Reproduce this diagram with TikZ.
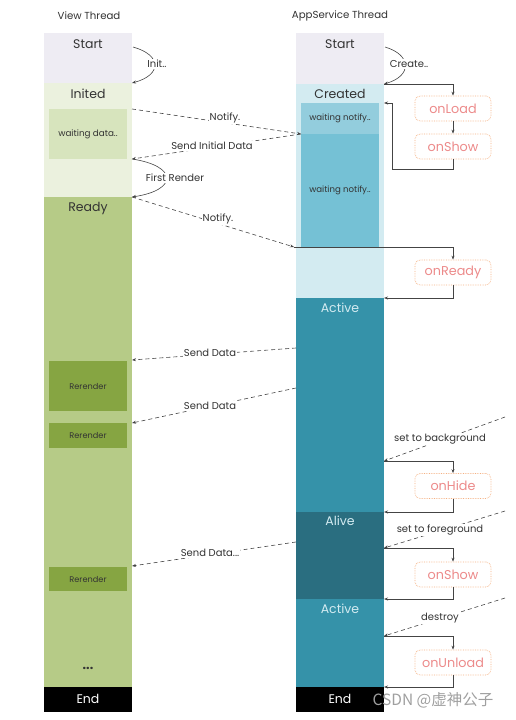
\documentclass[tikz,border=0pt]{standalone}
\usepackage{fontspec}
\setmainfont{Poppins}
\newfontfamily\cjkfont{Noto Sans CJK SC}
\usetikzlibrary{arrows.meta}
\definecolor{cStart}{HTML}{EEECF3}
\definecolor{cInited}{HTML}{EBF1DE}
\definecolor{cWait}{HTML}{D7E4BD}
\definecolor{cReady}{HTML}{B6CB87}
\definecolor{cRer}{HTML}{86A542}
\definecolor{cCreated}{HTML}{D3EBF1}
\definecolor{cWn1}{HTML}{93CDDD}
\definecolor{cWn2}{HTML}{75C1D5}
\definecolor{cActive}{HTML}{3592A9}
\definecolor{cAlive}{HTML}{2A6E80}
\definecolor{cActTxt}{HTML}{D3EBF1}
\definecolor{cOrange}{HTML}{F4B183}
\definecolor{cOrTxt}{HTML}{EC8A8A}
\definecolor{cTxt}{HTML}{333333}
\definecolor{cLine}{HTML}{444444}
\begin{document}
\begin{tikzpicture}[x=1pt,y=-1pt,
  blk/.style={draw=none,inner sep=0pt,outer sep=0pt,anchor=north west},
  lbl/.style={inner sep=0pt,text=cTxt,font=\fontsize{12.5}{12.5}\selectfont},
  small/.style={inner sep=0pt,text=cTxt,font=\fontsize{8.2}{8.5}\selectfont},
  title/.style={inner sep=0pt,text=cTxt,font=\fontsize{10.2}{10.2}\selectfont},
  conlbl/.style={inner sep=1pt,fill=white,text=cTxt,font=\fontsize{10}{10}\selectfont},
  hook/.style={draw=cOrange,densely dotted,rounded corners=5pt,minimum width=76pt,minimum height=25pt,inner sep=0pt,text=cOrTxt,font=\fontsize{12.8}{12.8}\selectfont,line width=0.7pt},
  arr/.style={-{Stealth[length=4pt,width=3pt]},draw=cLine,line width=0.6pt},
  dsh/.style={arr,dash pattern=on 4pt off 3pt},
]
\useasboundingbox (0,0) rectangle (515,720);
% titles
\node[title] (tv) at (89,16) {View Thread};
\node[title] (ta) at (340,16) {AppService Thread};
% View thread column
\node[blk,fill=cStart,minimum width=88pt,minimum height=50pt] (vstart) at (44,33) {};
\node[blk,fill=cInited,minimum width=88pt,minimum height=114pt] (vinited) at (44,83) {};
\node[blk,fill=cWait,minimum width=78pt,minimum height=50pt] (wdata) at (49,109) {};
\node[blk,fill=cReady,minimum width=88pt,minimum height=490pt] (vready) at (44,197) {};
\node[blk,fill=cRer,minimum width=78pt,minimum height=50pt] (rr1) at (49,361) {};
\node[blk,fill=cRer,minimum width=78pt,minimum height=25pt] (rr2) at (49,423) {};
\node[blk,fill=cRer,minimum width=78pt,minimum height=24pt] (rr3) at (49,567) {};
\node[blk,fill=black,minimum width=88pt,minimum height=25pt] (vend) at (44,687) {};
\node[lbl] (lvs) at (88,44) {Start};
\node[lbl] (lvi) at (88,94) {Inited};
\node[small,font=\fontsize{8.8}{9}\selectfont] (lwd) at (88,134) {waiting data..};
\node[lbl] (lvr) at (88,208) {Ready};
\node[small] (lr1) at (88,386) {Rerender};
\node[small] (lr2) at (88,435.5) {Rerender};
\node[small] (lr3) at (88,579) {Rerender};
\node[lbl,font=\bfseries\fontsize{12.5}{12.5}\selectfont] (ldots) at (88,668) {...};
\node[lbl,text=white] (lve) at (88,699) {End};
% AppService column
\node[blk,fill=cStart,minimum width=88pt,minimum height=51pt] (astart) at (296,33) {};
\node[blk,fill=cCreated,minimum width=88pt,minimum height=214pt] (acreated) at (296,84) {};
\node[blk,fill=cWn1,minimum width=78pt,minimum height=31pt] (wn1) at (301,103) {};
\node[blk,fill=cWn2,minimum width=78pt,minimum height=113pt] (wn2) at (301,134) {};
\node[blk,fill=cActive,minimum width=88pt,minimum height=214pt] (aact1) at (296,298) {};
\node[blk,fill=cAlive,minimum width=88pt,minimum height=87pt] (aalive) at (296,512) {};
\node[blk,fill=cActive,minimum width=88pt,minimum height=88pt] (aact2) at (296,599) {};
\node[blk,fill=black,minimum width=88pt,minimum height=25pt] (aend) at (296,687) {};
\node[lbl] (las) at (340,44) {Start};
\node[lbl] (lac) at (340,94) {Created};
\node[small,font=\fontsize{8.6}{9}\selectfont] (lw1) at (340,118.5) {waiting notify..};
\node[small,font=\fontsize{8.6}{9}\selectfont] (lw2) at (340,190) {waiting notify..};
\node[lbl,text=cActTxt] (la1) at (340,308) {Active};
\node[lbl,text=cActTxt] (lal) at (340,521) {Alive};
\node[lbl,text=cActTxt] (la2) at (340,609) {Active};
\node[lbl,text=white] (lae) at (340,699) {End};
% hooks
\node[hook] (onload) at (453,108.5) {onLoad};
\node[hook] (onshow) at (453,146.5) {onShow};
\node[hook] (onready) at (453,272.5) {onReady};
\node[hook] (onhide) at (453,486) {onHide};
\node[hook] (onshowb) at (453,574.5) {onShow};
\node[hook] (onunload) at (453,662.5) {onUnload};
% coordinates
\coordinate (pInit1) at (133,47);
\coordinate (pCr1) at (385,47);
\coordinate (pBack) at (392,169);
\coordinate (pIn) at (384,103);
\coordinate (pN2) at (294,247);
\coordinate (sd1a) at (296,348);
\coordinate (sd1b) at (132,360);
\coordinate (sd2a) at (296,388);
\coordinate (sd2b) at (132,423);
\coordinate (sd3a) at (296,542);
\coordinate (sd3b) at (132,566);
\coordinate (bgA) at (505,417);
\coordinate (bgB) at (384,461);
\coordinate (fgA) at (505,511);
\coordinate (fgB) at (384,548);
\coordinate (dsA) at (505,598);
\coordinate (dsB) at (384,636);
% curves
\draw[arr] (pInit1) .. controls (162,55) and (162,75) .. (vinited.north east);
\node[conlbl] (linit) at (157,64) {Init..};
\draw[arr] (vinited.east |- wdata.south) .. controls (178,166) and (178,190) .. (vready.north east);
\node[conlbl] (lfr) at (175,178) {First Render};
\draw[arr] (pCr1) .. controls (412,55) and (412,76) .. (acreated.north east);
\node[conlbl] (lcr) at (409,64) {Create..};
% created hooks
\draw[arr] (acreated.north east) -| (onload.north);
\draw[arr] (onload.south) -- (onshow.north);
\draw[line width=0.6pt,draw=cLine] (onshow.south) |- (pBack);
\draw[arr] (pBack) |- (pIn);
% notify / initial data
\draw[dsh] (vinited.east |- wdata.north) -- (wn2.north west);
\node[conlbl] (ln1) at (225,118) {Notify.};
\draw[dsh] (wn2.north west) -- (vinited.east |- wdata.south);
\node[conlbl] (lsid) at (212,146) {Send Initial Data};
\draw[dsh] (vready.north east) -- (pN2);
\node[conlbl] (ln2) at (218,219) {Notify.};
\draw[arr] (pN2) -| (onready.north);
\draw[arr] (onready.south) |- (aact1.north east);
% send data
\draw[dsh] (sd1a) -- (sd1b);
\node[conlbl] (lsd1) at (210,353) {Send Data};
\draw[dsh] (sd2a) -- (sd2b);
\node[conlbl] (lsd2) at (210,406) {Send Data};
\draw[dsh] (sd3a) -- (sd3b);
\node[conlbl] (lsd3) at (210,553) {Send Data...};
% lifecycle
\draw[dsh] (bgA) -- (bgB);
\node[conlbl] (lbg) at (440,439) {set to background};
\draw[arr] (bgB) -| (onhide.north);
\draw[arr] (onhide.south) |- (aalive.north east);
\draw[dsh] (fgA) -- (fgB);
\node[conlbl] (lfg) at (440,530) {set to foreground};
\draw[arr] (fgB) -| (onshowb.north);
\draw[arr] (onshowb.south) |- (aact2.north east);
\draw[dsh] (dsA) -- (dsB);
\node[conlbl] (lds) at (440,618) {destroy};
\draw[arr] (dsB) -| (onunload.north);
\draw[arr] (onunload.south) |- (aend.north east);
% watermark
\node[inner sep=0pt,text=gray!75,font=\cjkfont\fontsize{15.5}{16}\selectfont] (wm) at (433,700) {CSDN @虚神公子};
\end{tikzpicture}
\end{document}
